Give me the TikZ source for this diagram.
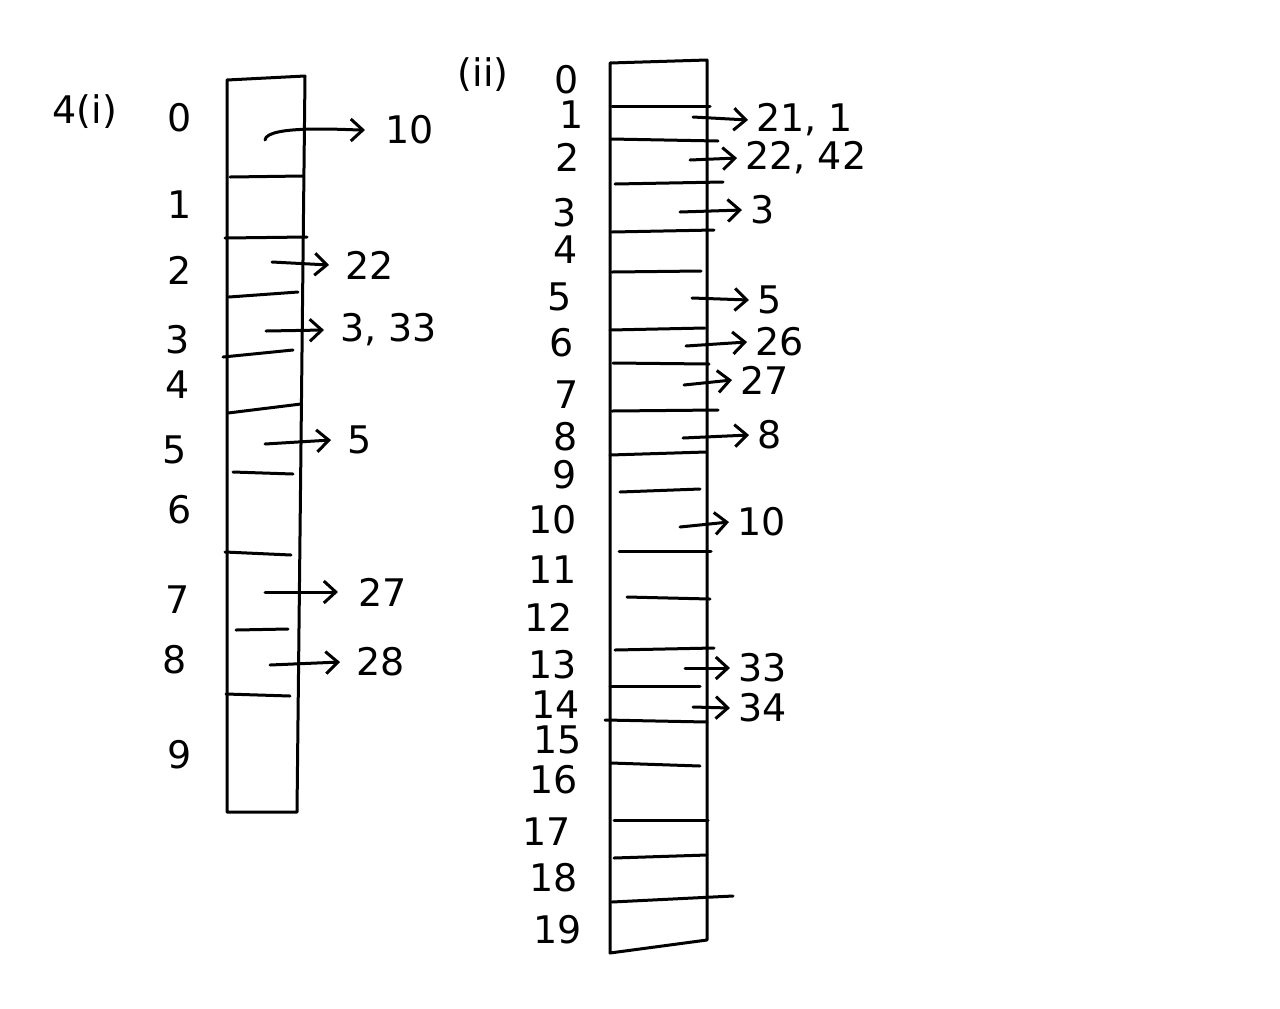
\documentclass[tikz,border=0pt]{standalone}
\usepackage{fontspec}
\setmainfont{DejaVu Sans}
\usetikzlibrary{arrows.meta}
\begin{document}
\begin{tikzpicture}[x=0.5pt,y=-0.5pt,
  ink/.style={line width=1.5pt,line cap=round,line join=round},
  lbl/.style={font=\fontsize{19}{22}\selectfont,inner sep=0pt},
  val/.style={font=\fontsize{19}{22}\selectfont,inner sep=0pt,anchor=west},
  ptr/.style={ink,-{Straight Barb[length=6pt,width=11pt,line width=1.5pt]}}]
\useasboundingbox (0,0) rectangle (1280,1008);
% ---------- left table ----------
\draw[ink] (227,80) -- (305,76) -- (297,812) -- (227,812) -- cycle;
\foreach \ya/\xa/\yb/\xb in {177/230/176/303, 238/225/237/307, 297/229/292/298, 357/223/350/293,
  413/228/404/301, 472/233/474/293, 552/225/555/291, 630/236/629/288, 694/226/696/290}
  \draw[ink] (\xa,\ya) -- (\xb,\yb);
\node[lbl] (q1) at (85,112) {4(i)};
\foreach \i/\x/\y in {0/180/118, 1/180/205, 2/180/270, 3/178/340, 4/178/385,
  5/175/450, 6/180/510, 7/178/600, 8/175/660, 9/180/755}
  \node[lbl] (L\i) at (\x,\y) {\i};
\node[val] (Lv0) at (385,130) {10};
\node[val] (Lv2) at (345,265) {22};
\node[val] (Lv3) at (340,330) {3, 33};
\node[val] (Lv5) at (347,440) {5};
\node[val] (Lv7) at (358,592) {27};
\node[val] (Lv8) at (356,662) {28};
\coordinate (La0) at (265,140);
\coordinate (La2) at (272,262);
\coordinate (La3) at (266,331);
\coordinate (La5) at (265,444);
\coordinate (La7) at (265,592);
\coordinate (La8) at (270,665);
\draw[ptr] (La0) to[out=85,in=180,looseness=0.4] ([xshift=-10]Lv0.west);
\draw[ptr] (La2) -- ([xshift=-8]Lv2.west);
\draw[ptr] (La3) -- ([xshift=-8]Lv3.west);
\draw[ptr] (La5) -- ([xshift=-8]Lv5.west);
\draw[ptr] (La7) -- ([xshift=-10]Lv7.west);
\draw[ptr] (La8) -- ([xshift=-8]Lv8.west);
% ---------- right table ----------
\draw[ink] (610,63) -- (707,60) -- (707,940) -- (610,953) -- cycle;
\foreach \ya/\xa/\yb/\xb in {106/612/106/710, 139/611/141/718, 184/615/182/723, 232/612/230/714,
  272/612/271/701, 330/610/328/705, 363/613/364/709, 411/612/410/718, 455/610/452/706,
  492/620/489/700, 551/619/551/711, 597/627/599/710, 650/615/648/714, 686/610/686/700,
  720/605/722/707, 763/611/766/700, 820/614/820/708, 858/614/855/707, 902/612/896/733}
  \draw[ink] (\xa,\ya) -- (\xb,\yb);
\node[lbl] (q2) at (483,75) {(ii)};
\foreach \i/\x/\y in {0/567/80, 1/572/115, 2/568/157, 3/565/213, 4/566/250, 5/560/297,
  6/562/343, 7/567/395, 8/566/437, 9/565/475, 10/553/520, 11/553/570, 12/549/617,
  13/553/665, 14/556/705, 15/558/740, 16/554/780, 17/547/832, 18/554/878, 19/558/930}
  \node[lbl] (R\i) at (\x,\y) {\i};
\node[val] (Rv1) at (756,120) {21, 1};
\node[val] (Rv2) at (745,158) {22, 42};
\node[val] (Rv3) at (750,210) {3};
\node[val] (Rv5) at (757,300) {5};
\node[val] (Rv6) at (755,342) {26};
\node[val] (Rv7) at (740,380) {27};
\node[val] (Rv8) at (757,435) {8};
\node[val] (Rv10) at (737,522) {10};
\node[val] (Rv13) at (738,668) {33};
\node[val] (Rv14) at (738,708) {34};
\coordinate (Ra1) at (693,117);
\coordinate (Ra2) at (690,160);
\coordinate (Ra3) at (680,212);
\coordinate (Ra5) at (692,298);
\coordinate (Ra6) at (686,346);
\coordinate (Ra7) at (684,385);
\coordinate (Ra8) at (683,438);
\coordinate (Ra10) at (680,527);
\coordinate (Ra13) at (685,668);
\coordinate (Ra14) at (693,707);
\foreach \k in {1,2,3,5,6,7,8,10,13,14}
  \draw[ptr] (Ra\k) -- ([xshift=-4]Rv\k.west);
\end{tikzpicture}
\end{document}
